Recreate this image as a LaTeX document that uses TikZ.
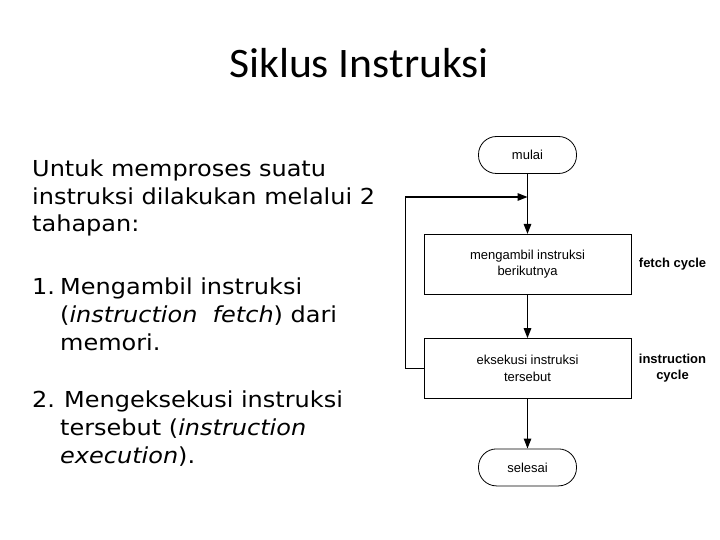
\documentclass[tikz,border=0pt]{standalone}
\usepackage{fontspec}
\setmainfont[FakeStretch=1.09]{DejaVu Sans}
\newfontfamily\titlefont[FakeStretch=1.04]{Carlito}
\newfontfamily\chartfont{Liberation Sans}
\usetikzlibrary{arrows.meta, positioning}

\begin{document}
\begin{tikzpicture}[
    x=1pt, y=-1pt,
    node distance=60pt,
    terminal/.style={
        rectangle, rounded corners=18pt,
        draw, line width=0.8pt,
        minimum width=98pt,
        minimum height=37pt,
        font=\chartfont\fontsize{13}{16}\selectfont
    },
    process/.style={
        rectangle, draw, line width=0.8pt,
        minimum width=207pt,
        minimum height=60pt,
        align=center,
        font=\chartfont\fontsize{13}{16.5}\selectfont
    },
    cyclelabel/.style={align=center, font=\chartfont\bfseries\fontsize{13}{16}\selectfont},
    bodytext/.style={anchor=base west, align=left, inner sep=0pt, font=\fontsize{22}{27.8}\selectfont},
    arrow/.style={-{Triangle[length=10pt,width=7.5pt]}, line width=1.4pt}
]
\useasboundingbox (0,0) rectangle (720,540);

\node[anchor=base, font=\titlefont\fontsize{42}{50}\selectfont] (title) at (359,78) {Siklus Instruksi};

% left column (base = last line)
\node[bodytext] (intro) at (32,232) {Untuk memproses suatu\\instruksi dilakukan melalui 2\\tahapan:};
\node[bodytext] (step1) at (32,350) {\makebox[28pt][l]{1.}Mengambil instruksi\\
    \hspace*{28pt}(\textit{instruction}\ \ \textit{fetch}) dari\\
    \hspace*{28pt}memori.};
\node[bodytext] (step2) at (32,463) {\makebox[32pt][l]{2.}Mengeksekusi instruksi\\
    \hspace*{28pt}tersebut (\textit{instruction}\\
    \hspace*{28pt}\textit{execution}).};

% flowchart
\node[terminal] (start) at (527.5,155) {mulai};
\node[process, below=60pt of start] (fetch) {mengambil instruksi\\berikutnya};
\node[process, below=43.5pt of fetch] (exec) {eksekusi instruksi\\tersebut};
\node[terminal, below=49.5pt of exec] (stop) {selesai};

\node[cyclelabel, right=4pt of fetch] (fetchlbl) {fetch cycle};
\node[cyclelabel, right=4pt of exec] (execlbl) {instruction\\cycle};

\coordinate (join) at (start.south |- 0,197);

\draw[arrow] (start) -- (fetch);
\draw[arrow] (fetch) -- (exec);
\draw[arrow] (exec) -- (stop);
\draw[arrow] (exec.west) -- ++(-18,0) |- (join);

\end{tikzpicture}
\end{document}
